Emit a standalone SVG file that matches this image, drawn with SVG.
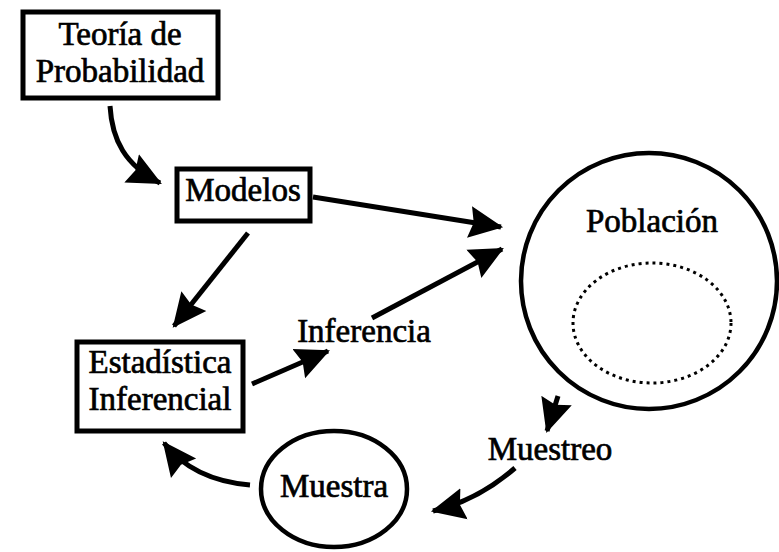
<svg xmlns="http://www.w3.org/2000/svg" width="779" height="552" viewBox="0 0 779 552">
<defs>
<marker id="ah" markerUnits="userSpaceOnUse" markerWidth="34" markerHeight="34" viewBox="0 0 32 32" refX="30" refY="16" orient="auto">
<path d="M0,1 L32,16 L0,31 L4,16 Z" fill="#000"/>
</marker>
<style>
.box{fill:#fff;stroke:#000;stroke-width:5}
.ell{fill:none;stroke:#000;stroke-width:4.5}
.dot{fill:none;stroke:#000;stroke-width:3;stroke-dasharray:3 4}
.t{font-family:"Liberation Serif","Times New Roman",serif;font-size:33px;fill:#000;stroke:#000;stroke-width:0.7;text-anchor:middle}
.c{fill:none;stroke:#000;stroke-width:5;marker-end:url(#ah)}
</style>
</defs>
<rect width="779" height="552" fill="#fff"/>
<g id="connectors">
<path class="c" d="M110,106 C112,140 125,165 160,183"/>
<path class="c" d="M313,197 L501,227"/>
<path class="c" d="M248,233 L174,326"/>
<path class="c" d="M372,318 L502,249"/>
<path class="c" d="M252,384 L328,351"/>
<path class="c" d="M250,485 C215,482 185,470 164,443"/>
<path class="c" d="M558,396 L547,431"/>
<path class="c" d="M515,468 C493,487 467,503 433,511"/>
</g>
<g id="teoria">
<rect class="box" x="23" y="12" width="195" height="86"/>
<text class="t" x="120" y="45" font-size="34">Teoría de</text>
<text class="t" x="120" y="82" font-size="34">Probabilidad</text>
</g>
<g id="modelos">
<rect class="box" x="177" y="169" width="133" height="52"/>
<text class="t" x="243" y="201">Modelos</text>
</g>
<g id="estadistica">
<rect class="box" x="77" y="342" width="166" height="89"/>
<text class="t" x="160" y="373">Estadística</text>
<text class="t" x="160" y="410">Inferencial</text>
</g>
<g id="inferencia">
<text class="t" x="364" y="342">Inferencia</text>
</g>
<g id="poblacion">
<circle class="ell" cx="649" cy="281" r="128"/>
<text class="t" x="652" y="232">Población</text>
<ellipse class="dot" cx="652" cy="323" rx="79" ry="60"/>
</g>
<g id="muestreo">
<text class="t" x="550" y="460">Muestreo</text>
</g>
<g id="muestra">
<ellipse class="ell" cx="334" cy="489" rx="73" ry="58"/>
<text class="t" x="334" y="497">Muestra</text>
</g>
</svg>
